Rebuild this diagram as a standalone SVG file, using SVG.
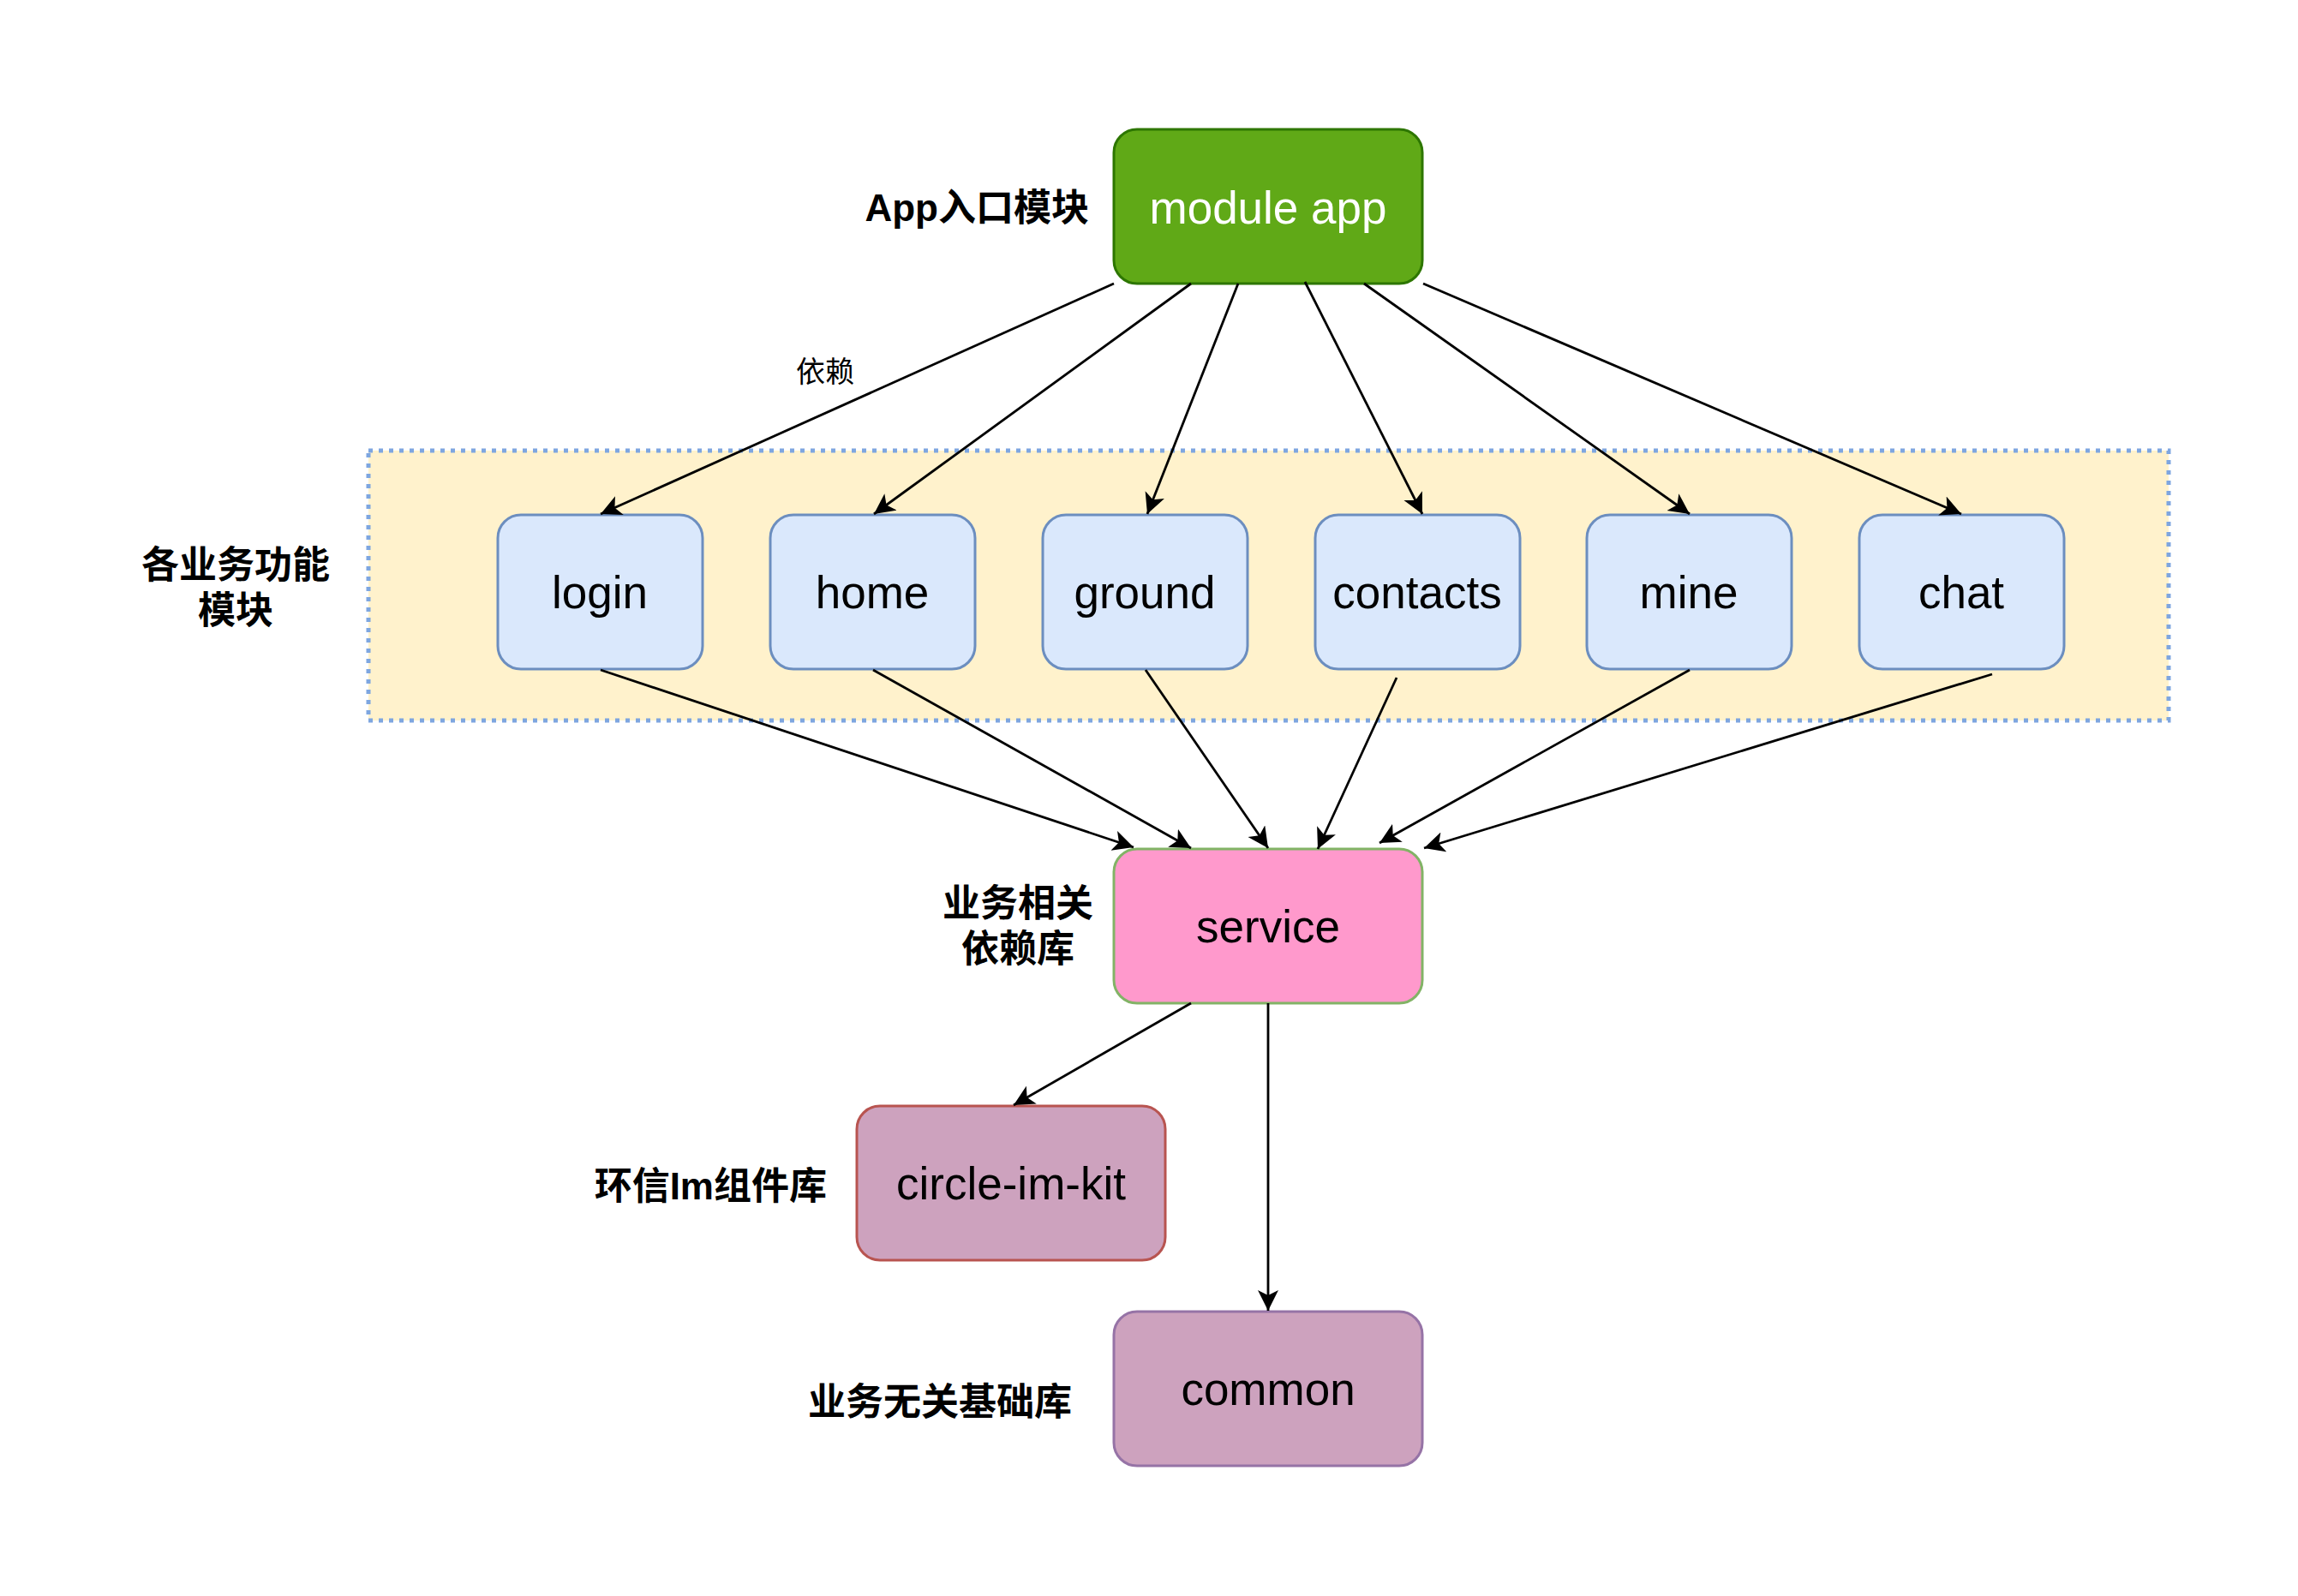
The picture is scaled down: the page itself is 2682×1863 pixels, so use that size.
<svg xmlns="http://www.w3.org/2000/svg" width="2682" height="1863" viewBox="0 0 2682 1863">
<defs>
<style>
.node rect{stroke-width:3}
.lbl{font-family:"Liberation Sans","Noto Sans CJK SC",sans-serif;font-size:53px;text-anchor:middle;fill:#000}
.side{font-family:"Liberation Sans","Noto Sans CJK SC",sans-serif;font-size:44px;font-weight:bold;fill:#000}
.feat rect{fill:#dae8fc;stroke:#6c8ebf}
.conn line{stroke:#000;stroke-width:2.8;marker-end:url(#arr)}
</style>
<marker id="arr" markerUnits="userSpaceOnUse" markerWidth="26" markerHeight="26" refX="24" refY="12" orient="auto" viewBox="0 0 26 26">
<path d="M0,0 L24,12 L0,24 L6,12 Z" fill="#000"/>
</marker>
</defs>
<rect width="2682" height="1863" fill="#fff"/>
<g id="group-box">
<rect x="430" y="526" width="2101" height="315" fill="#fff2cc" stroke="#7ea6e0" stroke-width="5" stroke-dasharray="5 7"/>
</g>
<g id="side-labels">
<text class="side" x="1271" y="258" text-anchor="end">App入口模块</text>
<text class="side" x="275" y="675" text-anchor="middle">各业务功能</text>
<text class="side" x="275" y="728" text-anchor="middle">模块</text>
<text class="side" x="1188" y="1070" text-anchor="middle">业务相关</text>
<text class="side" x="1188" y="1123" text-anchor="middle">依赖库</text>
<text class="side" x="965" y="1400" text-anchor="end">环信Im组件库</text>
<text class="side" x="1251" y="1652" text-anchor="end">业务无关基础库</text>
</g>
<g id="node-app" class="node">
<rect x="1300" y="151" width="360" height="180" rx="27" fill="#60a917" stroke="#2d7600"/>
<text class="lbl" x="1480" y="261" style="fill:#fff">module app</text>
</g>
<g id="node-login" class="node feat">
<rect x="581" y="601" width="239" height="180" rx="27"/>
<text class="lbl" x="700" y="710">login</text>
</g>
<g id="node-home" class="node feat">
<rect x="899" y="601" width="239" height="180" rx="27"/>
<text class="lbl" x="1018" y="710">home</text>
</g>
<g id="node-ground" class="node feat">
<rect x="1217" y="601" width="239" height="180" rx="27"/>
<text class="lbl" x="1336" y="710">ground</text>
</g>
<g id="node-contacts" class="node feat">
<rect x="1535" y="601" width="239" height="180" rx="27"/>
<text class="lbl" x="1654" y="710">contacts</text>
</g>
<g id="node-mine" class="node feat">
<rect x="1852" y="601" width="239" height="180" rx="27"/>
<text class="lbl" x="1971" y="710">mine</text>
</g>
<g id="node-chat" class="node feat">
<rect x="2170" y="601" width="239" height="180" rx="27"/>
<text class="lbl" x="2289" y="710">chat</text>
</g>
<g id="node-service" class="node">
<rect x="1300" y="991" width="360" height="180" rx="27" fill="#ff99cc" stroke="#82b366"/>
<text class="lbl" x="1480" y="1100">service</text>
</g>
<g id="node-imkit" class="node">
<rect x="1000" y="1291" width="360" height="180" rx="27" fill="#cda2be" stroke="#b85450"/>
<text class="lbl" x="1180" y="1400">circle-im-kit</text>
</g>
<g id="node-common" class="node">
<rect x="1300" y="1531" width="360" height="180" rx="27" fill="#cda2be" stroke="#9673a6"/>
<text class="lbl" x="1480" y="1640">common</text>
</g>
<g id="connectors" class="conn">
<line x1="1300" y1="331" x2="701" y2="600"/>
<line x1="1390" y1="331" x2="1020" y2="600"/>
<line x1="1445" y1="331" x2="1339" y2="600"/>
<line x1="1523" y1="329" x2="1660" y2="600"/>
<line x1="1592" y1="331" x2="1972" y2="600"/>
<line x1="1661" y1="331" x2="2289" y2="600"/>
<line x1="701" y1="782" x2="1323" y2="989"/>
<line x1="1019" y1="782" x2="1390" y2="990"/>
<line x1="1337" y1="782" x2="1480" y2="990"/>
<line x1="1630" y1="791" x2="1538" y2="991"/>
<line x1="1972" y1="782" x2="1610" y2="984"/>
<line x1="2325" y1="787" x2="1662" y2="990"/>
<line x1="1390" y1="1171" x2="1183" y2="1290"/>
<line x1="1480" y1="1171" x2="1480" y2="1530"/>
<text x="963" y="446" text-anchor="middle" style="font-family:'Liberation Sans','Noto Sans CJK SC',sans-serif;font-size:34px;fill:#000">依赖</text>
</g>
</svg>
